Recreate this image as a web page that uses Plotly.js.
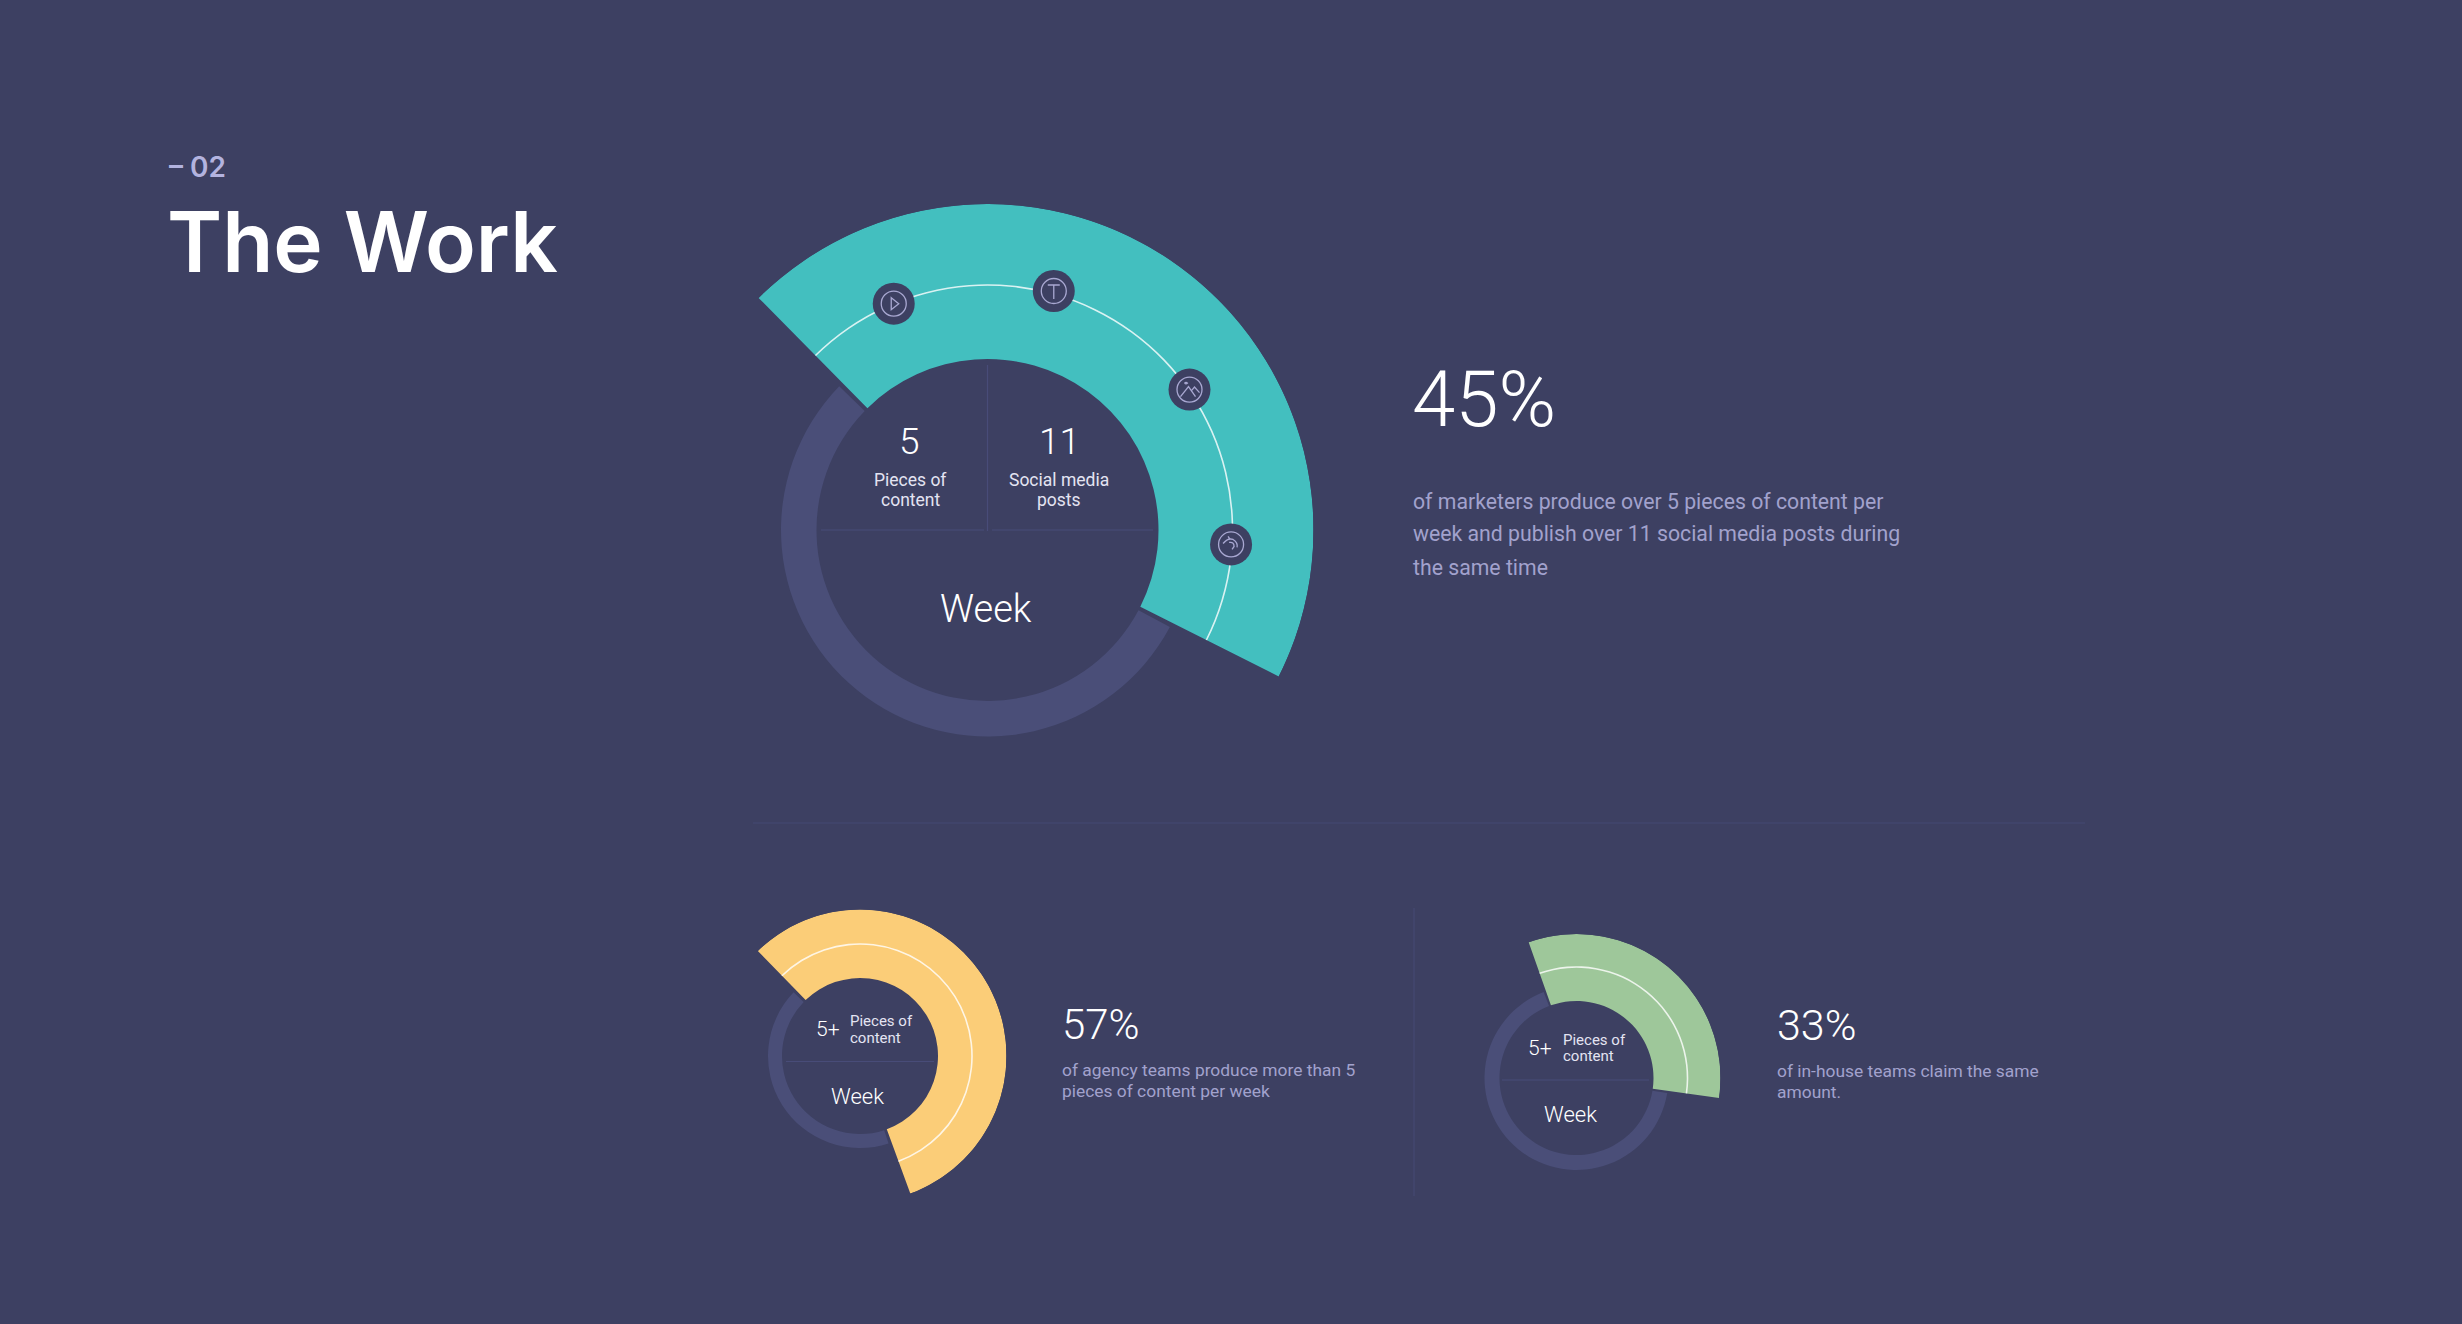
<!DOCTYPE html>
<html><head><meta charset="utf-8">
<script src="https://cdn.plot.ly/plotly-3.0.1.min.js"></script>
<style>html,body{margin:0;padding:0;background:#3d4062;overflow:hidden}#c{width:2462px;height:1324px}</style>
</head><body><div id="c"></div>
<script>
const W = 2462, H = 1324;
// ---- data
const chartNames = ["All marketers", "Agency teams", "In-house teams"];
const arcShares = [44.8, 56.7, 32.6];
const startAngles = [-44.6, -44.2, -19.4];
const shareLabels = ["45%", "57%", "33%"];
const iconNames = ["video", "text", "image", "audio"];
const iconThetas = [-22.5, 15.5, 55.2, 93.4];
const iconRadii = [245, 248, 246, 244];
// ---- style + geometry
const BG = "#3d4062", RING = "#4a4e78", LINE = "#484c78", SOFT = "#a2a2cd";
const arcColors = ["#43bfbf", "#fbcd78", "#9ec79a"];
const geom = [
  {cx: 987.5, cy: 530, r0: 171, r1: 206.5, rl: 245, R: 326, gap: 1.3},
  {cx: 860, cy: 1056, r0: 78, r1: 92, rl: 112, R: 146.5, gap: 2},
  {cx: 1576.5, cy: 1078, r0: 77, r1: 92, rl: 111, R: 144, gap: 1.5}
];
const px = x => x / W, py = y => 1 - y / H;
const traces = [], layout = {
  width: W, height: H, margin: {l: 0, r: 0, t: 0, b: 0, pad: 0},
  paper_bgcolor: BG, plot_bgcolor: BG, showlegend: false, hovermode: false,
  annotations: [], shapes: []
};
geom.forEach((g, i) => {
  const id = i === 0 ? "polar" : "polar" + (i + 1);
  layout[id] = {
    domain: {x: [px(g.cx - g.R), px(g.cx + g.R)], y: [py(g.cy + g.R), py(g.cy - g.R)]},
    bgcolor: "rgba(0,0,0,0)",
    radialaxis: {visible: false, range: [0, g.R]},
    angularaxis: {visible: false, direction: "clockwise", rotation: 90}
  };
  const sweep = arcShares[i] * 3.6, start = startAngles[i], rest = 360 - sweep - 2 * g.gap;
  // background ring (the remainder of the 100 %)
  traces.push({type: "barpolar", subplot: id, name: chartNames[i] + " rest",
    theta: [start + sweep + g.gap + rest / 2], width: [rest], base: [g.r0], r: [g.r1 - g.r0],
    marker: {color: RING, line: {width: 0}}, hoverinfo: "skip"});
  // thick arc
  traces.push({type: "barpolar", subplot: id, name: chartNames[i],
    theta: [start + sweep / 2], width: [sweep], base: [g.r0], r: [g.R - g.r0],
    marker: {color: arcColors[i], line: {width: 0}}, hoverinfo: "skip"});
  // thin white arc
  traces.push({type: "barpolar", subplot: id, name: chartNames[i] + " line",
    theta: [start + sweep / 2], width: [sweep], base: [g.rl - 0.8], r: [1.6],
    marker: {color: "rgba(255,255,255,0.8)", line: {width: 0}}, hoverinfo: "skip"});
});
// icon badges on the first arc
traces.push({type: "scatterpolar", subplot: "polar", mode: "markers", theta: iconThetas, r: iconRadii, text: iconNames,
  marker: {size: 42, color: BG, line: {width: 0}}, hoverinfo: "skip"});
traces.push({type: "scatterpolar", subplot: "polar", mode: "markers", theta: iconThetas, r: iconRadii,
  marker: {size: 25, symbol: "circle-open", color: "#a9a8d2", line: {width: 1.3, color: "#a9a8d2"}}, hoverinfo: "skip"});

// icon glyphs as paper-space paths around each badge
const glyphs = [
  [["M",-2.5,-6],["L",5,0],["L",-2.5,6],["Z"]],
  [["M",-6,-6],["L",6,-6],["M",0,-6],["L",0,8]],
  [["M",-9,7],["L",-1,-3],["L",6,7],["M",2,1],["L",5,-2.5],["L",10,3],
   ["M",-5,-6.5],["Q",-3.5,-8,-2,-6.5],["Q",-3.5,-5,-5,-6.5]],
  [["M",-8,-1],["Q",-3,-7,2,-5],["Q",7,-2,6,3],["M",-2,-2],["Q",3,-3,3,2],["L",1,5],["M",-3,-8],["L",-1,-5]]
];
iconThetas.forEach((t, k) => {
  const a = t * Math.PI / 180, g = geom[0];
  const cx = g.cx + iconRadii[k] * Math.sin(a), cy = g.cy - iconRadii[k] * Math.cos(a);
  const path = glyphs[k].map(s => {
    let o = s[0];
    for (let j = 1; j < s.length; j += 2) o += px(cx + s[j]) + "," + py(cy + s[j + 1]) + " ";
    return o;
  }).join(" ");
  layout.shapes.push({type: "path", xref: "paper", yref: "paper", path, layer: "above",
    line: {color: "#a9a8d2", width: 1.3}});
});

const seg = (x0, y0, x1, y1, color) => layout.shapes.push({type: "line", xref: "paper", yref: "paper", layer: "below",
  x0: px(x0), y0: py(y0), x1: px(x1), y1: py(y1), line: {color: color || LINE, width: 1.2}});
seg(821, 530, 984, 530); seg(992, 530, 1153, 530); seg(987.5, 365, 987.5, 531);
seg(786, 1061.5, 934, 1061.5); seg(1502, 1080, 1649, 1080);
seg(753, 823, 2085, 823, "#454972"); seg(1414, 908, 1414, 1196, "#454972");

const txt = (text, x, y, size, color, opts) => {
  opts = opts || {};
  layout.annotations.push({text, x: px(x), y: py(y), xref: "paper", yref: "paper", showarrow: false,
    xanchor: opts.a || "left", yanchor: "middle", align: opts.a || "left", borderpad: 0, borderwidth: 0,
    font: {family: opts.f || "Roboto", size, color, weight: opts.w || 400}});
};
txt("– 02", 169, 167, 28, "#b3b3df", {f: "Inter", w: 600});
txt("The Work", 167, 241, 83.6, "#ffffff", {f: "Inter", w: 600});

txt(shareLabels[0], 1412, 400, 78, "#ffffff", {w: 300});
txt("of marketers produce over 5 pieces of content per", 1413, 501, 21.25, SOFT);
txt("week and publish over 11 social media posts during", 1413, 534, 21.25, SOFT);
txt("the same time", 1413, 567, 21.25, SOFT);
txt("5", 909, 442, 37, "#ffffff", {a: "center", w: 300});
txt("11", 1059, 442, 37, "#ffffff", {a: "center", w: 300});
txt("Pieces of", 910, 480, 17.5, "#e4e4f2", {a: "center"});
txt("content", 910, 500.5, 17.5, "#e4e4f2", {a: "center"});
txt("Social media", 1059, 480, 17.5, "#e4e4f2", {a: "center"});
txt("posts", 1059, 500.5, 17.5, "#e4e4f2", {a: "center"});
txt("Week", 986, 609, 38, "#ffffff", {a: "center", w: 300});

txt("5+", 828, 1029, 21, "#ffffff", {a: "center", w: 300});
txt("Pieces of", 849.5, 1021, 15, "#e4e4f2");
txt("content", 849.5, 1037.5, 15, "#e4e4f2");
txt("Week", 857, 1096, 22, "#ffffff", {a: "center", w: 300});
txt(shareLabels[1], 1062, 1024, 42, "#ffffff", {w: 300});
txt("of agency teams produce more than 5", 1062, 1070, 17.4, SOFT);
txt("pieces of content per week", 1062, 1091, 17.4, SOFT);

txt("5+", 1540, 1048, 21, "#ffffff", {a: "center", w: 300});
txt("Pieces of", 1562.5, 1040, 15, "#e4e4f2");
txt("content", 1562.5, 1056, 15, "#e4e4f2");
txt("Week", 1570, 1114, 22, "#ffffff", {a: "center", w: 300});
txt(shareLabels[2], 1777, 1025, 43, "#ffffff", {w: 300});
txt("of in-house teams claim the same", 1777, 1071, 17.4, SOFT);
txt("amount.", 1777, 1092, 17.4, SOFT);

Plotly.newPlot("c", traces, layout, {displayModeBar: false, staticPlot: true});
</script></body></html>
